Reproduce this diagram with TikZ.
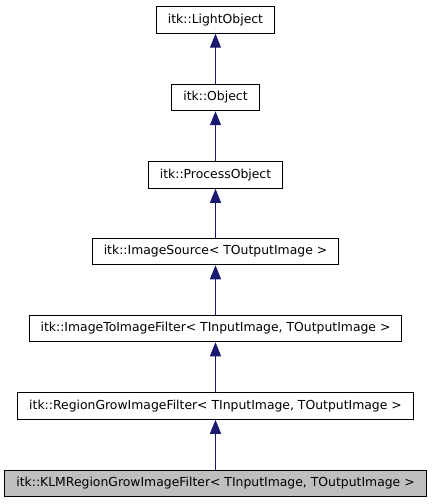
\documentclass[tikz,border=0pt]{standalone}
\usepackage{fontspec}
\setmainfont{DejaVu Sans}
\usetikzlibrary{arrows.meta}
\definecolor{edgeblue}{HTML}{191970}
\definecolor{boxgray}{HTML}{BFBFBF}
\tikzset{
  cls/.style={draw=black, line width=1bp, fill=white, inner xsep=11.5bp, inner ysep=0bp,
    minimum height=26.5bp, font=\fontsize{12.4bp}{14bp}\selectfont, anchor=center},
  cur/.style={cls, fill=boxgray},
  inh/.style={draw=edgeblue, line width=1bp, -{Triangle[width=11bp,length=14bp]}}
}
\begin{document}
\begin{tikzpicture}[x=1bp,y=1bp]
\useasboundingbox (0,0) rectangle (432,-504);
\node[cls] (lo) at (215.5,-20) {itk::LightObject};
\node[cls] (ob) at (215.5,-97.5) {itk::Object};
\node[cls] (po) at (215.5,-175) {itk::ProcessObject};
\node[cls] (is) at (215.5,-251.5) {itk::ImageSource< TOutputImage >};
\node[cls] (iti) at (215.5,-328.5) {itk::ImageToImageFilter< TInputImage, TOutputImage >};
\node[cls] (rg) at (215.5,-406) {itk::RegionGrowImageFilter< TInputImage, TOutputImage >};
\node[cur] (klm) at (215.5,-483.5) {itk::KLMRegionGrowImageFilter< TInputImage, TOutputImage >};
\draw[inh] (ob.north) -- (lo.south);
\draw[inh] (po.north) -- (ob.south);
\draw[inh] (is.north) -- (po.south);
\draw[inh] (iti.north) -- (is.south);
\draw[inh] (rg.north) -- (iti.south);
\draw[inh] (klm.north) -- (rg.south);
\end{tikzpicture}
\end{document}
